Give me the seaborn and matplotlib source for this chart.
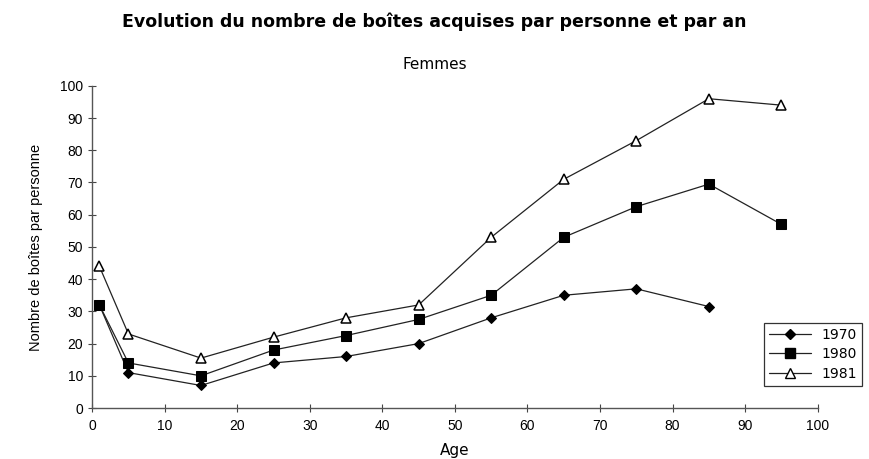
import pandas as pd
import seaborn as sns
import matplotlib.pyplot as plt

# ages (class midpoints) and boxes per person
ages = [1, 5, 15, 25, 35, 45, 55, 65, 75, 85, 95]
boites_1970 = [32, 11, 7, 14, 16, 20, 28, 35, 37, 31.5]
boites_1980 = [32, 14, 10, 18, 22.5, 27.5, 35, 53, 62.5, 69.5, 57]
boites_1981 = [44, 23, 15.5, 22, 28, 32, 53, 71, 83, 96, 94]
annees = ["1970", "1980", "1981"]

df = pd.concat([
    pd.DataFrame({"Age": ages[:len(boites_1970)], "valeur": boites_1970, "annee": "1970"}),
    pd.DataFrame({"Age": ages, "valeur": boites_1980, "annee": "1980"}),
    pd.DataFrame({"Age": ages, "valeur": boites_1981, "annee": "1981"}),
])

sns.set_style("white")
plt.rcParams["font.family"] = ["Liberation Sans", "DejaVu Sans"]
plt.rcParams["text.color"] = "black"
plt.rcParams["axes.labelcolor"] = "black"

fig = plt.figure(figsize=(8.69, 4.59), dpi=100)
ax = fig.add_axes([0.106, 0.111, 0.835, 0.702])

sns.lineplot(
    data=df, x="Age", y="valeur", hue="annee", style="annee",
    hue_order=annees, style_order=annees,
    palette={"1970": "#222222", "1980": "#222222", "1981": "#222222"},
    markers={"1970": "D", "1980": "s", "1981": "^"},
    dashes=False, linewidth=0.9, markersize=6.5, ax=ax, legend=False,
)

# black markers; open triangle for 1981
for line, lab in zip(ax.lines, annees):
    line.set_markeredgecolor("black")
    if lab == "1970":
        line.set_markersize(5)
        line.set_markerfacecolor("black")
    elif lab == "1980":
        line.set_markerfacecolor("black")
    else:
        line.set_markerfacecolor("white")
        line.set_markeredgewidth(1.1)

ax.set_xlim(0, 100)
ax.set_ylim(0, 100)
ax.set_xticks(range(0, 101, 10))
ax.set_yticks(range(0, 101, 10))
ax.tick_params(axis="both", direction="inout", length=6, width=0.8,
               bottom=True, left=True, labelsize=10, colors="#444444",
               labelcolor="black")
ax.tick_params(axis="x", pad=5)
sns.despine(ax=ax)
for s in ("left", "bottom"):
    ax.spines[s].set_color("#555555")
    ax.spines[s].set_linewidth(1.0)

ax.set_xlabel("Age", fontsize=11, labelpad=7, family="DejaVu Sans")
ax.set_ylabel("Nombre de boîtes par personne", fontsize=10.5, labelpad=12)

fig.text(0.5, 0.952, "Evolution du nombre de boîtes acquises par personne et par an",
         ha="center", va="center", fontsize=12.5, fontweight="bold",
         family="DejaVu Sans")
fig.text(0.5, 0.86, "Femmes", ha="center", va="center", fontsize=11,
         family="DejaVu Sans")

handles = [
    plt.Line2D([], [], color="#222222", lw=0.9, marker="D", ms=5,
               mfc="black", mec="black"),
    plt.Line2D([], [], color="#222222", lw=0.9, marker="s", ms=6.5,
               mfc="black", mec="black"),
    plt.Line2D([], [], color="#222222", lw=0.9, marker="^", ms=6.5,
               mfc="white", mec="black"),
]
leg = fig.legend(handles, annees, loc="lower right",
                 bbox_to_anchor=(1.0, 0.145), frameon=True, fancybox=False,
                 edgecolor="black", handlelength=3,
                 borderpad=0.35, labelspacing=0.4,
                 prop={"family": "DejaVu Sans", "size": 10})
leg.get_frame().set_linewidth(0.9)

plt.savefig("out.png", dpi=100)
